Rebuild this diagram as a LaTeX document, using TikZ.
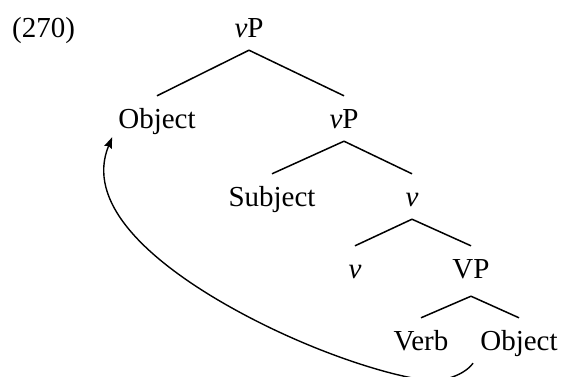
\documentclass[tikz,border=0pt]{standalone}
\usepackage{fontspec}
\setmainfont{Liberation Serif}
\usetikzlibrary{arrows.meta}
\begin{document}
\begin{tikzpicture}[x=1pt,y=-1pt,
  lab/.style={inner xsep=0pt,inner ysep=13pt,text height=19pt,text depth=0pt,anchor=base,font=\fontsize{29}{34}\selectfont},
  branch/.style={line width=1.5pt},
  move/.style={line width=1.4pt,-{Stealth[length=11pt,width=8pt,inset=1.5pt]}}]
\useasboundingbox (0,0) rectangle (563,376);
\node[lab,anchor=base west] (ex) at (12,37) {(270)};
\node[lab] (vP1) at (249,37) {\textit{v}P};
\node[lab] (obj2) at (157,128) {Object};
\node[lab] (vP2) at (344,128) {\textit{v}P};
\node[lab] (subj) at (272,206) {Subject};
\node[lab] (vbar) at (412,206) {\textit{v}};
\node[lab] (v4) at (355,278) {\textit{v}};
\node[lab] (VP) at (471,278) {VP};
\node[lab] (verb) at (421,350) {Verb};
\node[lab] (obj5) at (519,350) {Object};
\draw[branch] (vP1.south) -- (obj2.north);
\draw[branch] (vP1.south) -- (vP2.north);
\draw[branch] (vP2.south) -- (subj.north);
\draw[branch] (vP2.south) -- (vbar.north);
\draw[branch] (vbar.south) -- (v4.north);
\draw[branch] (vbar.south) -- (VP.north);
\draw[branch] ([yshift=-5pt]VP.south) -- (verb.north);
\draw[branch] ([yshift=-5pt]VP.south) -- (obj5.north);
\coordinate (cs) at ([xshift=-7pt]obj5.south west);
\coordinate (ce) at ([xshift=-6pt,yshift=4pt]obj2.south west);
\coordinate (cb) at (425,380);
\coordinate (cm) at (213,297);
\draw[move] (cs) .. controls (465,374) and (445,382.5) .. (cb)
  .. controls (385,375) and (296,347) .. (cm)
  .. controls (147,257) and (85.5,202) .. (ce);
\end{tikzpicture}
\end{document}
